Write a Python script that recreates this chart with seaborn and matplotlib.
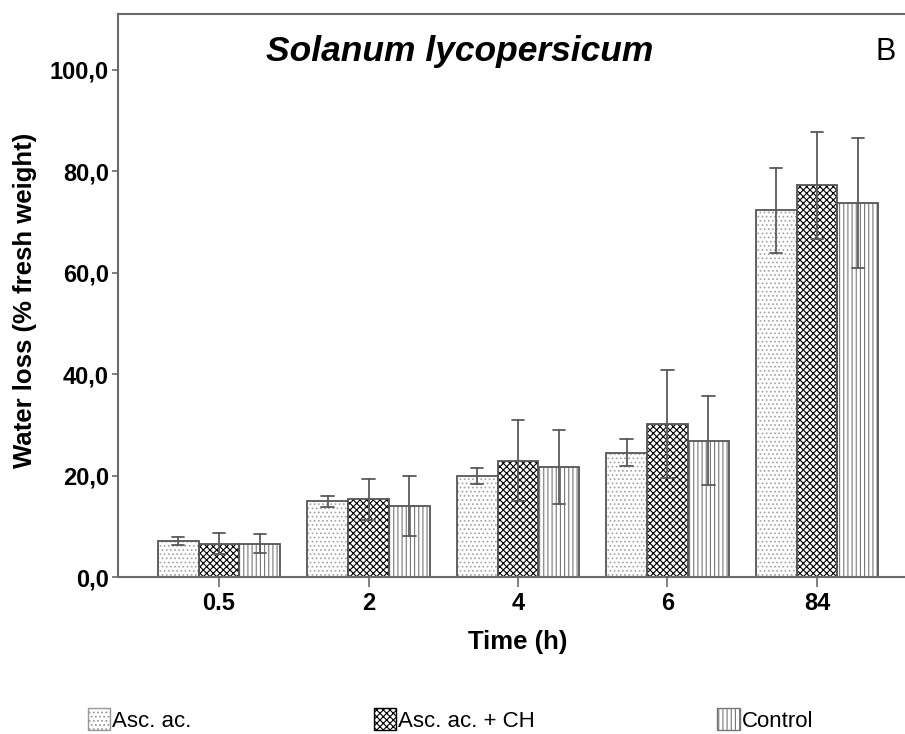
import matplotlib
matplotlib.use("Agg")
import matplotlib.pyplot as plt
import matplotlib.patches as mpatches
import seaborn as sns
import pandas as pd

times = ["0.5", "2", "4", "6", "84"]
groups = ["Asc. ac.", "Asc. ac. + CH", "Control"]
asc_mean = [7.1, 14.9, 19.9, 24.5, 72.3]
asc_err = [0.7, 1.15, 1.65, 2.7, 8.4]
ch_mean = [6.6, 15.3, 22.9, 30.2, 77.2]
ch_err = [2.1, 4.0, 8.0, 10.6, 10.5]
ctrl_mean = [6.6, 14.0, 21.6, 26.9, 73.8]
ctrl_err = [1.8, 5.9, 7.3, 8.8, 12.8]
yticks = [0, 20, 40, 60, 80, 100]
ytick_labels = ["0,0", "20,0", "40,0", "60,0", "80,0", "100,0"]

means = {"Asc. ac.": asc_mean, "Asc. ac. + CH": ch_mean, "Control": ctrl_mean}
errs = {"Asc. ac.": asc_err, "Asc. ac. + CH": ch_err, "Control": ctrl_err}

rows = []
for g in groups:
    for t, m, e in zip(times, means[g], errs[g]):
        rows.append({"Time": t, "Group": g, "val": m - e})
        rows.append({"Time": t, "Group": g, "val": m + e})
df = pd.DataFrame(rows)

sns.set_style("white")
plt.rcParams["font.family"] = ["Liberation Sans", "DejaVu Sans"]
plt.rcParams["text.color"] = "black"
plt.rcParams["xtick.labelcolor"] = "black"
plt.rcParams["ytick.labelcolor"] = "black"
plt.rcParams["hatch.linewidth"] = 0.8

fig = plt.figure(figsize=(9.05, 7.34), dpi=100)
ax = fig.add_axes([118 / 905, 1 - 577 / 734, 1 - 118 / 905, (577 - 14) / 734])

spine_c = "#6a6a6a"
hatch_specs = {
    "Asc. ac.": dict(hatch="....", hc="#a8a8a8", lw=0.8),
    "Asc. ac. + CH": dict(hatch="xxxxx", hc="#000000", lw=0.8),
    "Control": dict(hatch="||||", hc="#777777", lw=0.8),
}

sns.barplot(data=df, x="Time", y="val", hue="Group", order=times, hue_order=groups,
            palette=["white"] * 3, width=0.82, errorbar=lambda v: (min(v), max(v)),
            capsize=0.25, err_kws={"color": "#5a5a5a", "linewidth": 1.3},
            legend=False, ax=ax)
for cont, g in zip(ax.containers, groups):
    for p in cont.patches:
        p.set_facecolor("white")
        p.set_edgecolor(hatch_specs[g]["hc"])
        p.set_hatch(hatch_specs[g]["hatch"])
        if hasattr(p, "set_hatch_linewidth"):
            p.set_hatch_linewidth(hatch_specs[g]["lw"])
        p.set_linewidth(0)

# outlines
sns.barplot(data=df, x="Time", y="val", hue="Group", order=times, hue_order=groups,
            palette=["#555555"] * 3, width=0.82, errorbar=None, fill=False,
            legend=False, ax=ax, linewidth=1.3)
for line in ax.lines:
    line.set_zorder(5)

ax.set_xlim(-0.676, 4.589)
ax.set_ylim(0, 111)
ax.set_yticks(yticks)
ax.set_yticklabels(ytick_labels)
ax.set_xlabel("")
ax.set_ylabel("")
for s in ["left", "top", "bottom"]:
    ax.spines[s].set_color(spine_c)
    ax.spines[s].set_linewidth(1.5)
ax.spines["right"].set_visible(False)
ax.tick_params(axis="y", length=4.5, width=1.2, color=spine_c, pad=2,
               labelsize=17, direction="out", left=True, labelcolor="black")
ax.tick_params(axis="x", length=7, width=1.2, color=spine_c, pad=4,
               labelsize=17, direction="out", bottom=True, labelcolor="black")
for lab in ax.get_xticklabels() + ax.get_yticklabels():
    lab.set_fontweight("bold")

fig.text(460 / 905, 1 - 52 / 734, "Solanum lycopersicum", fontsize=25.5,
         style="italic", fontweight="bold", ha="center", va="center", color="black")
fig.text(886 / 905, 1 - 52 / 734, "B", fontsize=22, ha="center", va="center", color="black")
fig.text(518 / 905, 1 - 642 / 734, "Time (h)", fontsize=18.5, fontweight="bold",
         ha="center", va="center", color="black")
fig.text(25 / 905, 1 - 300 / 734, "Water loss (% fresh weight)", fontsize=18.5,
         fontweight="bold", rotation=90, ha="center", va="center", color="black")

handles = []
for g in groups:
    hp = mpatches.Patch(facecolor="white",
                        edgecolor=hatch_specs[g]["hc"] if g != "Asc. ac." else "#999999",
                        hatch=hatch_specs[g]["hatch"], linewidth=1.0, label=g)
    handles.append(hp)
leg = fig.legend(handles=handles, loc="center left", bbox_to_anchor=(88 / 905, 1 - 720 / 734),
                 ncol=3, frameon=False, fontsize=16, handlelength=1.0, handleheight=1.1,
                 handletextpad=0.1, columnspacing=8.2, borderaxespad=0, borderpad=0)
for t in leg.get_texts():
    t.set_color("black")

fig.savefig("out.png", dpi=100)
